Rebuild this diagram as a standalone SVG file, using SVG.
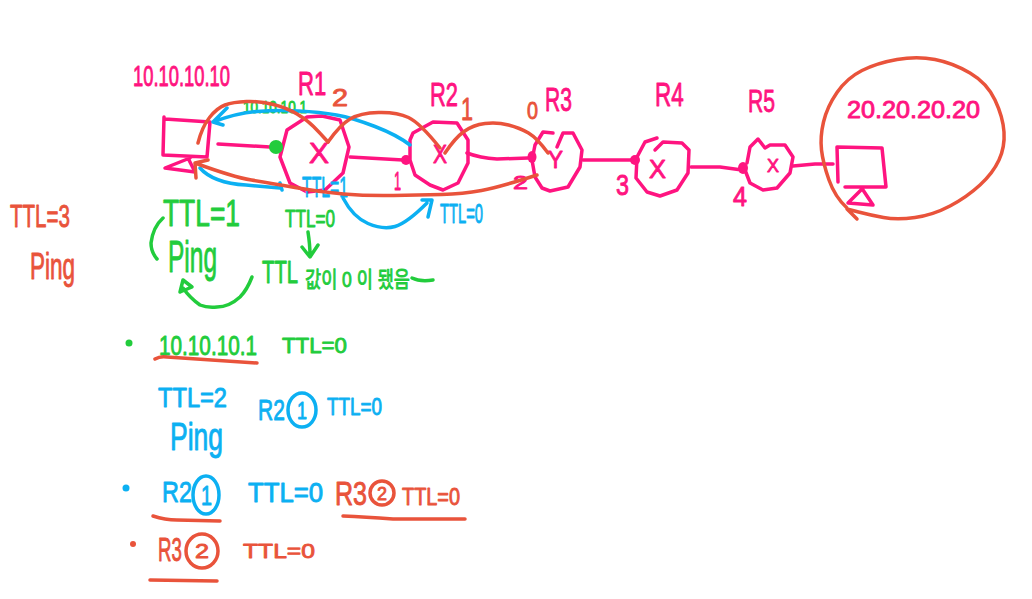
<svg xmlns="http://www.w3.org/2000/svg" width="1032" height="599" viewBox="0 0 1032 599">
<style>
.s{fill:none;stroke-width:3.5;stroke-linecap:round;stroke-linejoin:round}
.pk{stroke:#ff1480}.rd{stroke:#e9533b}.gr{stroke:#22cc3c}.bl{stroke:#0cb0f2}
text{font-family:"Liberation Sans","Noto Sans CJK KR",sans-serif;stroke-width:.9;stroke-linejoin:round}
.tpk{fill:#ff1480;stroke:#ff1480}.trd{fill:#e9533b;stroke:#e9533b}.tgr{fill:#22cc3c;stroke:#22cc3c}.tbl{fill:#0cb0f2;stroke:#0cb0f2}
</style>
<rect width="1032" height="599" fill="#fff"/>

<text class="tgr" transform="translate(243 113) scale(.796 1)" font-size="17">10.10.10.1</text>

<g id="pc1">
<path class="s pk" d="M163 155L164 117M165 119L210 122L207 157L163 155M190 158L165 168L195 172L188 158"/>
<text class="tpk" x="133" y="86" font-size="29" textLength="97" lengthAdjust="spacingAndGlyphs">10.10.10.10</text>
</g>
<g id="r1">
<path class="s pk" d="M307 117L322 116L340 120L349 147L343 173L325 190L307 192L290 183L280 157L287 130L307 117"/>
<text class="tpk" x="309" y="163" font-size="29" textLength="20" lengthAdjust="spacingAndGlyphs">X</text>
<text class="tpk" transform="translate(298 95) scale(.67 1)" font-size="33">R1</text>
<text class="trd" x="332" y="106" font-size="24" textLength="16" lengthAdjust="spacingAndGlyphs">2</text>
</g>
<g id="r2">
<path class="s pk" d="M413 133L433 122L457 123L468 140L468 163L458 183L443 190L430 185L415 175L410 160L410 140L413 133"/>
<text class="tpk" x="433" y="163" font-size="26" textLength="14" lengthAdjust="spacingAndGlyphs">X</text>
<text class="tpk" transform="translate(430 106) scale(.644 1)" font-size="34">R2</text>
<text class="trd" x="461" y="120" font-size="32" textLength="12" lengthAdjust="spacingAndGlyphs">1</text>
<text class="tpk" x="394" y="190" font-size="25" textLength="7" lengthAdjust="spacingAndGlyphs">1</text>
</g>
<g id="r3">
<path class="s pk" d="M553 133L543 132L535 145L532 160L535 177L542 188L550 191L568 187L580 167L582 150L573 133L563 133L557 147"/>
<text class="tpk" x="548" y="168" font-size="24" textLength="15" lengthAdjust="spacingAndGlyphs">Y</text>
<text class="tpk" transform="translate(545 111) scale(.62 1)" font-size="34">R3</text>
<text class="trd" x="527" y="119" font-size="24" textLength="11" lengthAdjust="spacingAndGlyphs">0</text>
<text class="tpk" x="513" y="189" font-size="18" textLength="15" lengthAdjust="spacingAndGlyphs">2</text>
</g>
<g id="r4">
<path class="s pk" d="M657 138L645 142L637 157L636 178L647 192L660 196L677 190L688 173L689 150L682 143L663 142L655 150"/>
<text class="tpk" x="649" y="178" font-size="26" textLength="17" lengthAdjust="spacingAndGlyphs">X</text>
<text class="tpk" transform="translate(655 106) scale(.66 1)" font-size="34">R4</text>
<text class="tpk" x="616" y="195" font-size="30" textLength="13" lengthAdjust="spacingAndGlyphs">3</text>
</g>
<g id="r5">
<path class="s pk" d="M747 163L750 147L758 139L765 148L770 145L785 145L793 157L790 173L777 188L763 190L750 183L745 170"/>
<text class="tpk" x="767" y="172" font-size="19" textLength="12" lengthAdjust="spacingAndGlyphs">X</text>
<text class="tpk" transform="translate(748 112) scale(.66 1)" font-size="32">R5</text>
<text class="tpk" x="733" y="206" font-size="27" textLength="14" lengthAdjust="spacingAndGlyphs">4</text>
</g>
<g id="pc2">
<path class="s pk" d="M838 182L837 147L882 148L886 187L845 187M863 188L848 203L873 205L863 190"/>
<text class="tpk" x="847" y="118" font-size="24" textLength="133" lengthAdjust="spacingAndGlyphs">20.20.20.20</text>
</g>

<g id="connectors">
<path class="s pk" d="M218 144L270 147"/>
<path class="s pk" d="M350 157L403 160"/>
<path class="s pk" d="M467 153Q480 158 497 159L528 158"/>
<path class="s pk" d="M583 160L633 160"/>
<path class="s pk" d="M691 167L720 167L742 170"/>
<path class="s pk" d="M793 166L815 164L833 164"/>
<ellipse cx="276" cy="147" rx="7" ry="7" fill="#22cc3c"/>
<ellipse cx="406" cy="160" rx="5" ry="5" fill="#ff1480"/>
<ellipse cx="532" cy="157" rx="4.500" ry="6" fill="#ff1480"/>
<ellipse cx="635" cy="160" rx="5" ry="5" fill="#ff1480"/>
<ellipse cx="743" cy="168" rx="5" ry="6" fill="#ff1480"/>
<path class="s bl" d="M410 145Q397 135 375 126.500Q353 118 336.500 115Q320 112 298.500 111Q277 110 257 111.500Q237 113 213 122M227 108L213 122L223 125"/>
<path class="s bl" d="M200 168Q213 183 246 185L280 188M280 183L282 190"/>
<path class="s bl" d="M343 198Q353 217 368 223.500Q383 230 395 226.500Q407 223 427 203M422 200L432 200L428 217"/>
<text class="tbl" x="302" y="197" font-size="30" textLength="46" lengthAdjust="spacingAndGlyphs">TTL=1</text>
<text class="tbl" x="440" y="223" font-size="27" textLength="43" lengthAdjust="spacingAndGlyphs">TTL=0</text>
<path class="s rd" d="M198 143Q202 127 209.500 117.500Q217 108 225 105Q233 102 246.500 101.500Q260 101 273.500 104.500Q287 108 297 114Q307 120 313.500 126.500Q320 133 328 142"/>
<path class="s rd" d="M328 142Q340 125 350 119Q360 113 378.500 112.500Q397 112 408.500 117.500Q420 123 440 148"/>
<path class="s rd" d="M445 153Q455 138 464 131.500Q473 125 485 123.500Q497 122 508.500 125Q520 128 528.500 133Q537 138 548 153"/>
<path class="s rd" d="M537 175Q500 187 481.500 190.500Q463 194 441.500 194.500Q420 195 393.500 195.500Q367 196 343.500 194Q320 192 295 187.500Q270 183 251.500 180Q233 177 195 163M208 160L195 163L196 178"/>
<path class="s rd" d="M847 208Q835 197 829 180Q823 163 821.500 150Q820 137 823.500 122Q827 107 837 92.500Q847 78 862 70.500Q877 63 897 59.500Q917 56 935 59.500Q953 63 970 73Q987 83 995 100Q1003 117 1004 132Q1005 147 999 160Q993 173 980 185Q967 197 950 206Q933 215 915 217.500Q897 220 883.500 217.500Q870 215 858.500 212L847 209L857 219"/>
<path class="s gr" d="M308 232Q310 245 310 255M302 247L310 257L318 245"/>
<path class="s gr" d="M163 218Q153 227 151 243Q151 252 157 259"/>
<path class="s gr" d="M252 277Q247 290 240 297Q229 307 217 307Q207 308 200 305Q190 298 183 288M180 292L183 280L192 287L180 292"/>
</g>

<g id="notes-red-left">
<text class="trd" x="10" y="227" font-size="32" textLength="60" lengthAdjust="spacingAndGlyphs">TTL=3</text>
<text class="trd" x="30" y="279" font-size="36" textLength="45" lengthAdjust="spacingAndGlyphs">Ping</text>
</g>
<g id="notes-green">
<text class="tgr" x="163" y="226" font-size="36" textLength="77" lengthAdjust="spacingAndGlyphs">TTL=1</text>
<text class="tgr" x="168" y="272" font-size="44" textLength="49" lengthAdjust="spacingAndGlyphs">Ping</text>
<text class="tgr" x="285" y="227" font-size="24" textLength="50" lengthAdjust="spacingAndGlyphs">TTL=0</text>
<text class="tgr" transform="translate(262 283) scale(.656 1)" font-size="31">TTL</text>
<text class="tgr" x="305" y="287" font-size="22" textLength="105" lengthAdjust="spacingAndGlyphs">값이 0 이 됐음</text>
<path class="s gr" d="M412 278Q420 282 433 280"/>
<circle cx="129" cy="343" r="3.500" fill="#22cc3c"/>
<text class="tgr" x="159" y="355" font-size="27" textLength="98" lengthAdjust="spacingAndGlyphs">10.10.10.1</text>
<text class="tgr" x="282" y="353" font-size="22" textLength="65" lengthAdjust="spacingAndGlyphs">TTL=0</text>
<path class="s rd" d="M155 359Q160 356 167 357L257 363"/>
</g>
<g id="notes-blue">
<text class="tbl" x="158" y="407" font-size="27" textLength="69" lengthAdjust="spacingAndGlyphs">TTL=2</text>
<text class="tbl" x="170" y="450" font-size="38" textLength="53" lengthAdjust="spacingAndGlyphs">Ping</text>
<text class="tbl" transform="translate(258 420) scale(.7 1)" font-size="30">R2</text>
<ellipse class="s bl" cx="302" cy="410" rx="14" ry="17"/>
<text class="tbl" x="297" y="419" font-size="24" textLength="10" lengthAdjust="spacingAndGlyphs">1</text>
<text class="tbl" x="327" y="415" font-size="24" textLength="55" lengthAdjust="spacingAndGlyphs">TTL=0</text>
<circle cx="126" cy="488" r="3.500" fill="#0cb0f2"/>
<text class="tbl" transform="translate(162 502) scale(.78 1)" font-size="30">R2</text>
<ellipse class="s bl" cx="206" cy="495" rx="13" ry="19"/>
<text class="tbl" x="201" y="505" font-size="27" textLength="11" lengthAdjust="spacingAndGlyphs">1</text>
<text class="tbl" x="248" y="502" font-size="27" textLength="75" lengthAdjust="spacingAndGlyphs">TTL=0</text>
</g>
<g id="notes-red">
<path class="s rd" d="M153 516Q165 520 177 520L220 521"/>
<text class="trd" transform="translate(335 505) scale(.76 1)" font-size="33">R3</text>
<circle class="s rd" cx="382" cy="493" r="12"/>
<text class="trd" x="377" y="500" font-size="19" textLength="10" lengthAdjust="spacingAndGlyphs">2</text>
<text class="trd" x="402" y="505" font-size="24" textLength="58" lengthAdjust="spacingAndGlyphs">TTL=0</text>
<path class="s rd" d="M343 516Q365 517 393 519L465 519"/>
<circle cx="133" cy="544" r="3" fill="#e9533b"/>
<text class="trd" transform="translate(158 561) scale(.55 1)" font-size="34">R3</text>
<ellipse class="s rd" cx="202" cy="551" rx="16" ry="17"/>
<text class="trd" x="195" y="558" font-size="20" textLength="14" lengthAdjust="spacingAndGlyphs">2</text>
<text class="trd" x="243" y="558" font-size="21" textLength="72" lengthAdjust="spacingAndGlyphs">TTL=0</text>
<path class="s rd" d="M150 580L217 581"/>
</g>
</svg>
